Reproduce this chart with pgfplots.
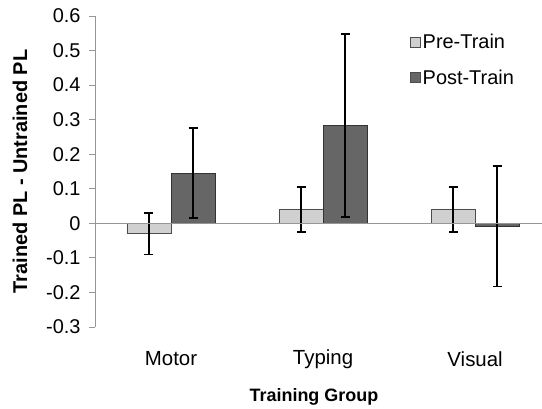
\documentclass[border=0pt]{standalone}
\usepackage{pgfplots}
\pgfplotsset{compat=1.18}
\usepackage{fontspec}
\setmainfont{Liberation Sans}
\definecolor{preC}{RGB}{208,208,208}
\definecolor{postC}{RGB}{102,102,102}
\definecolor{axC}{RGB}{150,150,150}
\begin{document}
\begin{tikzpicture}
\path[use as bounding box] (0,0) rectangle (542bp,409bp);
\begin{axis}[
  at={(95bp,82bp)}, anchor=south west,
  scale only axis, width=447bp, height=311bp,
  xmin=-0.5, xmax=2.44, ymin=-0.3, ymax=0.6,
  axis x line=none,
  axis y line*=left,
  y axis line style={draw=axC, line width=0.8pt},
  ytick={-0.3,-0.2,-0.1,0,0.1,0.2,0.3,0.4,0.5,0.6},
  yticklabels={-0.3,-0.2,-0.1,0,0.1,0.2,0.3,0.4,0.5,0.6},
  ytick style={draw=axC, line width=0.8pt},
  tick align=outside, major tick length=6bp,
  yticklabel style={font=\fontsize{20}{22}\selectfont, anchor=east, xshift=-5bp},
  ylabel={\textbf{Trained PL - Untrained PL}},
  ylabel style={font=\fontsize{20}{22}\selectfont, at={(axis description cs:-0.168,0.5)}, anchor=center},
  ybar, bar width=0.29,
  legend style={draw=none, fill=none, at={(rel axis cs:0.705,0.95)}, anchor=north west,
    font=\fontsize{20}{22}\selectfont, row sep=16bp, inner sep=0pt,
    legend cell align=left},
  legend image code/.code={\draw[#1, draw=black!70, line width=0.4pt, fill] (0bp,-5bp) rectangle (10bp,5bp);},
  error bars/y dir=both, error bars/y explicit,
  error bars/error mark options={rotate=90, mark size=4.5bp, line width=1.8pt},
  error bars/error bar style={line width=1.8pt, black},
  clip=false,
]
\addplot[fill=preC, draw=black!70, line width=0.6pt, bar shift=-0.145] coordinates {
  (0,-0.030) +- (0,0.060)
  (1,0.040) +- (0,0.066)
  (2,0.040) +- (0,0.064)
};
\addplot[fill=postC, draw=black!80, line width=0.6pt, bar shift=0.145] coordinates {
  (0,0.145) +- (0,0.130)
  (1,0.283) +- (0,0.265)
  (2,-0.009) +- (0,0.174)
};
\legend{Pre-Train,Post-Train}
\draw[axC, line width=0.8pt] (axis cs:-0.5,0) -- (axis cs:2.44,0);
\node[font=\fontsize{20.5}{22}\selectfont, anchor=center] at (axis cs:0,-0.3) [yshift=-32bp] {Motor};
\node[font=\fontsize{20.5}{22}\selectfont, anchor=center] at (axis cs:1,-0.3) [yshift=-32bp] {Typing};
\node[font=\fontsize{20.5}{22}\selectfont, anchor=center] at (axis cs:2,-0.3) [yshift=-32bp] {Visual};
\node[font=\fontsize{18}{20}\selectfont\bfseries, anchor=center] at (axis cs:0.94,-0.3) [yshift=-70bp] {Training Group};
\end{axis}
\end{tikzpicture}
\end{document}
